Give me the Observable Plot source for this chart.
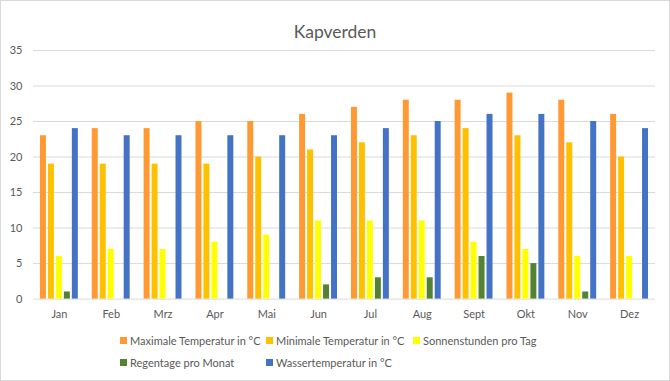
<!DOCTYPE html>
<html>
<head>
<meta charset="utf-8">
<script src="https://cdn.jsdelivr.net/npm/d3@7"></script>
<script src="https://cdn.jsdelivr.net/npm/@observablehq/plot@0.6"></script>
<style>
  html, body { margin: 0; padding: 0; background: #fff; }
  #wrap { position: relative; width: 670px; height: 381px; box-sizing: border-box; border: 1px solid #d9d9d9; font-family: Lato, "Open Sans", sans-serif; overflow: hidden; }
  #title { position: absolute; left: 0; top: 0; width: 668px; height: 62px; line-height: 62px; text-align: center; font-size: 17.5px; color: #595959; z-index: 2; }
  #chart { position: absolute; left: -1px; top: 34px; }
  .lg { position: absolute; font-size: 11px; color: #595959; white-space: nowrap; line-height: 14px; }
  .lg span { display: inline-block; width: 7px; height: 7px; margin-right: 3px; vertical-align: 1px; }
</style>
</head>
<body>
<div id="wrap">
  <div id="title">Kapverden</div>
  <div id="chart"></div>
  <div id="legend"></div>
</div>
<script>
const months = ["Jan","Feb","Mrz","Apr","Mai","Jun","Jul","Aug","Sept","Okt","Nov","Dez"];
const seriesNames = ["Maximale Temperatur in °C","Minimale Temperatur in °C","Sonnenstunden pro Tag","Regentage pro Monat","Wassertemperatur in °C"];
const seriesColors = ["#FF9933","#FFC000","#FFFF00","#548235","#4472C4"];
const maxTemp = [23,24,24,25,25,26,27,28,28,29,28,26];
const minTemp = [19,19,19,19,20,21,22,23,24,23,22,20];
const sonne   = [6,7,7,8,9,11,11,11,8,7,6,6];
const regen   = [1,0,0,0,0,2,3,3,6,5,1,0];
const wasser  = [24,23,23,23,23,23,24,25,26,26,25,24];
const yTicks  = [0,5,10,15,20,25,30,35];

const seriesValues = [maxTemp, minTemp, sonne, regen, wasser];
const data = [];
months.forEach((m, i) => {
  seriesNames.forEach((s, j) => data.push({month: m, series: s, value: seriesValues[j][i]}));
});

const plot = Plot.plot({
  width: 670,
  height: 285,
  marginLeft: 33,
  marginRight: 14,
  marginTop: 15,
  marginBottom: 21,
  style: {fontFamily: "Lato, 'Open Sans', sans-serif", fontSize: "11px", color: "#595959", background: "transparent"},
  fx: {domain: months, padding: 0, round: false, axis: "bottom", tickSize: 0, tickPadding: 11, label: null},
  x: {domain: seriesNames, paddingInner: 0.25, paddingOuter: 0.875, round: false, axis: null},
  y: {domain: [0, 35], axis: null},
  color: {domain: seriesNames, range: seriesColors},
  marks: [
    Plot.ruleY(yTicks, {stroke: "#d9d9d9", strokeWidth: 1}),
    Plot.axisY({ticks: yTicks, tickSize: 0, tickPadding: 11, label: null, fontSize: 11}),
    Plot.barY(data, {fx: "month", x: "series", y: "value", fill: "series"})
  ]
});
document.getElementById("chart").appendChild(plot);

const legendPos = [[120, 334], [266, 334], [413, 334], [120, 356], [266, 356]];
const legend = document.getElementById("legend");
seriesNames.forEach((s, j) => {
  const d = document.createElement("div");
  d.className = "lg";
  d.style.left = (legendPos[j][0] - 1) + "px";
  d.style.top = (legendPos[j][1] - 1) + "px";
  d.innerHTML = `<span style="background:${seriesColors[j]}"></span>${s}`;
  legend.appendChild(d);
});
</script>
</body>
</html>
